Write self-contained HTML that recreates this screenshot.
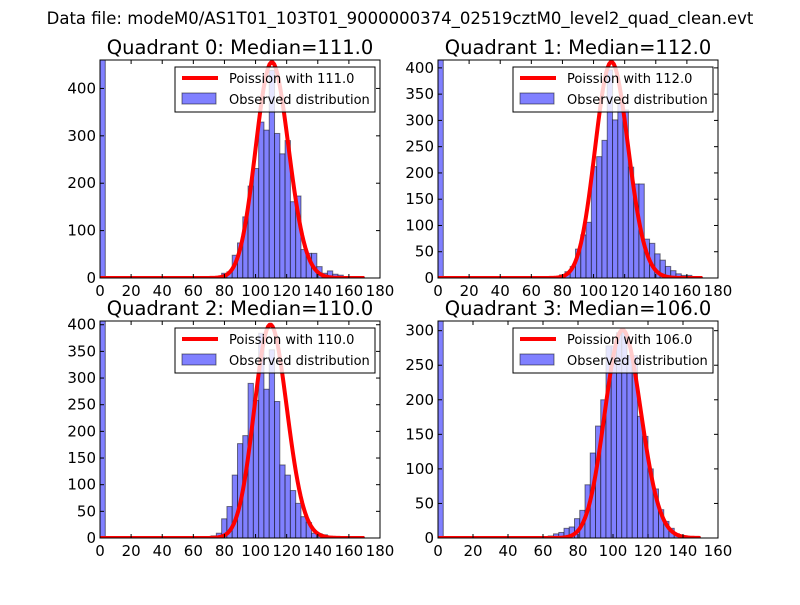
<!DOCTYPE html>
<html><head><meta charset="utf-8"><style>
body{margin:0;background:#fff}
svg text{font-family:"DejaVu Sans","Liberation Sans",sans-serif}
</style></head><body>
<svg id="c" width="800" height="600" viewBox="0 0 800 600">
<rect width="800" height="600" fill="#fff"/>
<text x="400" y="24" font-size="16.5" text-anchor="middle">Data file: modeM0/AS1T01_103T01_9000000374_02519cztM0_level2_quad_clean.evt</text>
</svg>
<script>
const counts0=[460,0,0,0,0,0,0,0,0,0,0,0,0,0,0,0,0,0,0,0,0,1,2,10,13,48,74,129,194,231,329,312,438,305,262,290,161,173,60,52,52,24,10,15,8,6,3,1,1,1];
const counts1=[415,0,0,0,0,0,0,0,0,0,0,0,0,0,0,0,0,0,0,0,0,1,2,6,12,22,55,82,106,212,231,262,396,301,331,320,211,179,179,74,66,46,34,22,14,8,5,5,1,1];
const counts2=[407,0,0,0,0,0,0,0,0,0,0,0,0,0,0,0,0,0,0,0,1,4,9,36,59,118,177,192,290,258,384,279,353,256,137,118,89,65,40,29,9,8,6,3,1,1,1,1,1,1];
const counts3=[314,0,0,0,0,0,0,0,0,0,0,0,0,0,0,0,0,1,1,2,2,3,6,8,14,16,28,40,77,123,162,200,278,278,297,297,264,264,176,147,100,71,41,24,14,6,3,1,1,1];
const medians=[111.0,112.0,110.0,106.0];
const binWidths=[3.4,3.4,3.4,3.0];
const curvePeaks=[455,411,400,301];
const yMaxes=[460,415,407,314];
const xMaxes=[180,180,180,160];
const xTicks0=[0,20,40,60,80,100,120,140,160,180];
const xTicks3=[0,20,40,60,80,100,120,140,160];
const yTicks0=[0,100,200,300,400];
const yTicks1=[0,50,100,150,200,250,300,350,400];
const yTicks3=[0,50,100,150,200,250,300];
const countsAll=[counts0,counts1,counts2,counts3];
const xTicksAll=[xTicks0,xTicks0,xTicks0,xTicks3];
const yTicksAll=[yTicks0,yTicks1,yTicks1,yTicks3];
const boxes=[{l:100,t:60,w:280,h:218},{l:438,t:60,w:280,h:218},{l:100,t:321,w:280,h:217},{l:438,t:321,w:280,h:217}];
const NS="http://www.w3.org/2000/svg";
const svg=document.getElementById('c');
function mk(tag,attrs,parent){const e=document.createElementNS(NS,tag);for(const k in attrs)e.setAttribute(k,attrs[k]);(parent||svg).appendChild(e);return e;}
function lgamma(x){return (x-0.5)*Math.log(x)-x+0.5*Math.log(2*Math.PI)+1/(12*x)-1/(360*x*x*x);}
function logPmf(k,l){return k*Math.log(l)-l-lgamma(k+1);}
for(let p=0;p<4;p++){
  const b=boxes[p];
  const g=mk('g',{});
  
  
  const xs=v=>b.l+v/xMaxes[p]*b.w;
  const ys=v=>b.t+b.h-v/yMaxes[p]*b.h;
  const cp=mk('clipPath',{id:'cp'+p},g);mk('rect',{x:b.l,y:b.t,width:b.w,height:b.h},cp);
  const dg=mk('g',{'clip-path':'url(#cp'+p+')'},g);
  countsAll[p].forEach((c,i)=>{
    if(c<=0)return;
    const x0=xs(i*binWidths[p]),x1=xs((i+1)*binWidths[p]);
    const r=mk('rect',{x:x0,y:ys(c),width:x1-x0,height:ys(0)-ys(c),fill:'#8080ff',stroke:'#000','stroke-opacity':0.5,'stroke-width':1},dg);
    
    
  });
  const lam=medians[p];
  const ref=logPmf(Math.floor(lam),lam);
  let d='';
  for(let k=0;k<=Math.round(binWidths[p]*50);k++){
    const v=curvePeaks[p]*Math.exp(logPmf(k,lam)-ref);
    d+=(k?'L':'M')+xs(k).toFixed(2)+','+ys(v).toFixed(2);
  }
  const path=mk('path',{d:d,fill:'none',stroke:'#ff0000','stroke-width':4,'stroke-linejoin':'round'},dg);
  
  
  mk('rect',{x:b.l,y:b.t,width:b.w,height:b.h,fill:'none',stroke:'#000','stroke-width':1},g);
  xTicksAll[p].forEach(t=>{
    const x=xs(t);
    mk('line',{x1:x,x2:x,y1:b.t+b.h,y2:b.t+b.h-4,stroke:'#000'},g);
    mk('line',{x1:x,x2:x,y1:b.t,y2:b.t+4,stroke:'#000'},g);
    const tx=mk('text',{x:x,y:b.t+b.h+18,'font-size':15,'text-anchor':'middle'},g);
    tx.textContent=t;
    
    
  });
  yTicksAll[p].forEach(t=>{
    const y=ys(t);
    mk('line',{x1:b.l,x2:b.l+4,y1:y,y2:y,stroke:'#000'},g);
    mk('line',{x1:b.l+b.w,x2:b.l+b.w-4,y1:y,y2:y,stroke:'#000'},g);
    const ty=mk('text',{x:b.l-4,y:y+5,'font-size':15,'text-anchor':'end'},g);
    ty.textContent=t;
    
    
  });
  const ti=mk('text',{x:b.l+b.w/2,y:b.t-6,'font-size':19.5,'text-anchor':'middle'},g);
  ti.textContent='Quadrant '+p+': Median='+lam.toFixed(1);
  
  
  const lg=mk('g',{},g);
  
  
  const lx=b.l+b.w-205,ly=b.t+7;
  mk('rect',{x:lx,y:ly,width:200,height:45,fill:'#fff','fill-opacity':0.8,stroke:'#000','stroke-width':1},lg);
  mk('line',{x1:lx+7,x2:lx+43,y1:ly+11,y2:ly+11,stroke:'#ff0000','stroke-width':4},lg);
  const t1=mk('text',{x:lx+54,y:ly+16,'font-size':13},lg);
  t1.textContent='Poission with '+lam.toFixed(1);
  
  
  mk('rect',{x:lx+7,y:ly+26,width:34,height:11,fill:'#8080ff',stroke:'#000','stroke-opacity':0.5},lg);
  const t2=mk('text',{x:lx+54,y:ly+37,'font-size':13},lg);
  t2.textContent='Observed distribution';
  
  
}
</script>
</body></html>
